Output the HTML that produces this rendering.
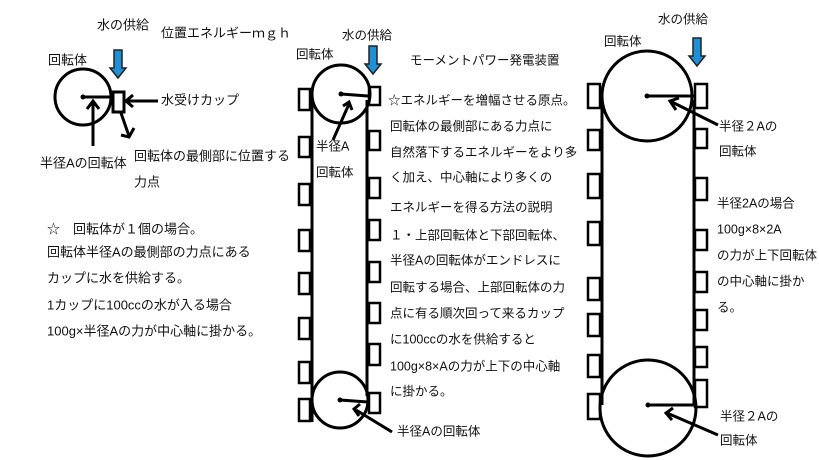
<!DOCTYPE html>
<html><head><meta charset="utf-8"><style>
html,body{margin:0;padding:0;background:#fff;}
svg{display:block;}
text{font-family:"Liberation Sans","Noto Sans CJK JP",sans-serif;font-size:12.5px;fill:#111;dominant-baseline:middle;}
.l text{font-size:13px;}
</style></head><body>
<svg width="819" height="460" viewBox="0 0 819 460" xmlns="http://www.w3.org/2000/svg">
<defs>
<g id="blue"><path d="M-4,0 h8 v18 h4 l-8,10 l-8,-10 h4 z" fill="#1e90d8" stroke="#222" stroke-width="1.5"/></g>
</defs>
<g fill="none" stroke="#000" stroke-width="3">
<circle cx="83" cy="97" r="28"/>
<rect x="113" y="92" width="11" height="20"/>
<line x1="83" y1="97" x2="113" y2="97"/>
<line x1="93" y1="146" x2="93" y2="103"/><polyline points="87,109 93,101 99,109"/>
<line x1="158" y1="101" x2="126" y2="101"/><polyline points="133,95 126,101 133,107"/>
<line x1="121" y1="113" x2="129" y2="136"/><polyline points="121,135 129,137 134,128"/>
<circle cx="341" cy="94" r="29"/>
<circle cx="340" cy="400" r="28"/>
<line x1="312" y1="100" x2="312" y2="422"/>
<line x1="367" y1="100" x2="367" y2="396"/>
<line x1="341" y1="94" x2="368" y2="96"/>
<line x1="340" y1="400" x2="368" y2="402"/>
<line x1="333" y1="140" x2="349" y2="104"/><polyline points="343,106 349,102 352,110"/>
<line x1="392" y1="432" x2="356" y2="410"/><polyline points="360,404 354,409 359,416"/>
<g stroke-width="2.5">
<rect x="299" y="89" width="11" height="21"/><rect x="299" y="137" width="11" height="20"/><rect x="299" y="184" width="11" height="21"/><rect x="299" y="230" width="11" height="21"/><rect x="299" y="273" width="11" height="21"/><rect x="299" y="318" width="11" height="21"/><rect x="299" y="362" width="11" height="21"/><rect x="299" y="399" width="11" height="22"/>
<rect x="369" y="87" width="11" height="18"/><rect x="369" y="131" width="11" height="19"/><rect x="369" y="178" width="11" height="20"/><rect x="369" y="220" width="11" height="20"/><rect x="369" y="262" width="11" height="20"/><rect x="369" y="303" width="11" height="20"/><rect x="369" y="344" width="11" height="21"/><rect x="369" y="393" width="11" height="20"/>
</g>
<circle cx="647" cy="96" r="45"/>
<circle cx="648" cy="408" r="48"/>
<line x1="602" y1="100" x2="602" y2="405"/>
<line x1="694" y1="100" x2="694" y2="405"/>
<line x1="647" y1="96" x2="694" y2="96"/>
<line x1="648" y1="405" x2="697" y2="405"/>
<line x1="718" y1="125" x2="672" y2="102"/><polyline points="676,110 670,101 679,98"/>
<line x1="718" y1="435" x2="667" y2="413"/><polyline points="673,408 666,413 672,420"/>
<g stroke-width="2.5">
<rect x="588" y="84" width="12" height="24"/><rect x="588" y="130" width="12" height="20"/><rect x="588" y="174" width="12" height="24"/><rect x="588" y="222" width="12" height="23"/><rect x="588" y="278" width="12" height="22"/><rect x="588" y="314" width="12" height="22"/><rect x="588" y="355" width="12" height="22"/><rect x="588" y="394" width="12" height="25"/>
<rect x="695" y="84" width="12" height="24"/><rect x="695" y="129" width="12" height="19"/><rect x="695" y="178" width="12" height="22"/><rect x="695" y="230" width="12" height="20"/><rect x="695" y="272" width="12" height="20"/><rect x="695" y="310" width="12" height="20"/><rect x="695" y="347" width="12" height="20"/><rect x="695" y="380" width="12" height="27"/>
</g>
</g>
<g fill="#000">
<circle cx="83" cy="97" r="2.5"/><circle cx="341" cy="94" r="2.5"/><circle cx="340" cy="400" r="2.5"/><circle cx="647" cy="96" r="2.5"/><circle cx="648" cy="405" r="2.5"/>
</g>
<use href="#blue" x="118" y="50"/>
<use href="#blue" x="373" y="46"/>
<use href="#blue" x="697" y="38"/>
<g class="l">
<text x="97" y="26">水の供給</text>
<text x="161" y="34">位置エネルギーｍｇｈ</text>
<text x="48" y="61">回転体</text>
<text x="161" y="101">水受けカップ</text>
<text x="40" y="164">半径Aの回転体</text>
<text x="134" y="157">回転体の最側部に位置する</text>
<text x="134" y="183">力点</text>
<text x="47" y="230">☆　回転体が１個の場合。</text>
<text x="47" y="253">回転体半径Aの最側部の力点にある</text>
<text x="47" y="279">カップに水を供給する。</text>
<text x="47" y="306">1カップに100ccの水が入る場合</text>
<text x="47" y="332">100g×半径Aの力が中心軸に掛かる。</text>
</g>
<text x="342" y="36">水の供給</text>
<text x="296" y="55">回転体</text>
<text x="410" y="61">モーメントパワー発電装置</text>
<text x="316" y="147">半径A</text>
<text x="316" y="173">回転体</text>
<text x="388" y="101">☆エネルギーを増幅させる原点。</text>
<text x="390" y="127">回転体の最側部にある力点に</text>
<text x="390" y="153">自然落下するエネルギーをより多</text>
<text x="390" y="178">く加え、中心軸により多くの</text>
<text x="390" y="208">エネルギーを得る方法の説明</text>
<text x="390" y="236">１・上部回転体と下部回転体、</text>
<text x="390" y="261">半径Aの回転体がエンドレスに</text>
<text x="390" y="288">回転する場合、上部回転体の力</text>
<text x="390" y="314">点に有る順次回って来るカップ</text>
<text x="390" y="340">に100ccの水を供給すると</text>
<text x="390" y="367">100g×8×Aの力が上下の中心軸</text>
<text x="390" y="392">に掛かる。</text>
<text x="397" y="432">半径Aの回転体</text>
<text x="658" y="20">水の供給</text>
<text x="604" y="42">回転体</text>
<text x="719" y="127">半径２Aの</text>
<text x="719" y="152">回転体</text>
<text x="717" y="204">半径2Aの場合</text>
<text x="717" y="230">100g×8×2A</text>
<text x="717" y="256">の力が上下回転体</text>
<text x="717" y="282">の中心軸に掛か</text>
<text x="717" y="308">る。</text>
<text x="720" y="417">半径２Aの</text>
<text x="720" y="441">回転体</text>
</svg>
</body></html>
